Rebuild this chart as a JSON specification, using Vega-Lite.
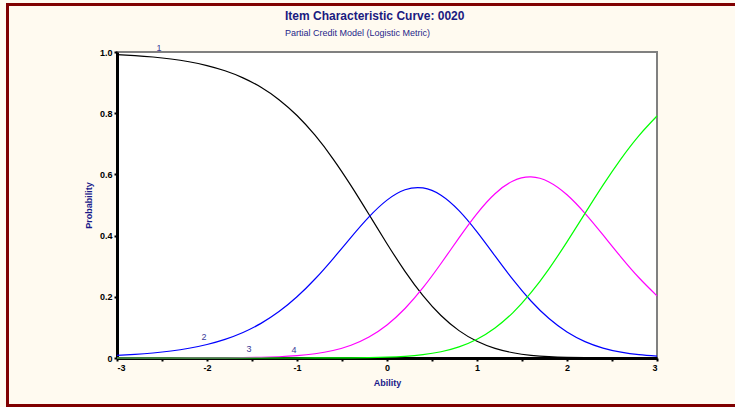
{
  "$schema": "https://vega.github.io/schema/vega-lite/v6.json",
  "width": 540,
  "height": 306,
  "autosize": {"type": "none"},
  "padding": {"left": 117, "top": 52, "right": 78, "bottom": 49},
  "background": "#fffaf0",
  "title": {
    "text": "Item Characteristic Curve: 0020",
    "subtitle": "Partial Credit Model (Logistic Metric)",
    "anchor": "start",
    "frame": "group",
    "dx": 168,
    "font": "Liberation Sans",
    "fontSize": 12,
    "fontWeight": "bold",
    "color": "#1a1a80",
    "subtitleFont": "Liberation Sans",
    "subtitleFontSize": 9,
    "subtitleColor": "#26268a",
    "subtitlePadding": 6,
    "offset": -36
  },
  "config": {
    "view": {"fill": "white", "stroke": "#808080", "strokeWidth": 2},
    "axis": {
      "grid": false,
      "domainColor": "black",
      "domainWidth": 3,
      "tickColor": "black",
      "tickWidth": 2,
      "tickSize": 3,
      "labelPadding": 2,
      "labelFont": "Liberation Sans",
      "labelFontWeight": "bold",
      "labelFontSize": 9,
      "labelColor": "black",
      "titleFont": "Liberation Sans",
      "titleFontWeight": "bold",
      "titleFontSize": 9,
      "titleColor": "#1a1a8a"
    }
  },
  "datasets": {
    "curves": [
      {"theta": -3.0, "cat": "1", "p": 0.99164}, {"theta": -2.8, "cat": "1", "p": 0.98829}, {"theta": -2.6, "cat": "1", "p": 0.98361}, {"theta": -2.4, "cat": "1", "p": 0.9771}, {"theta": -2.2, "cat": "1", "p": 0.96808}, {"theta": -2.0, "cat": "1", "p": 0.95564}, {"theta": -1.8, "cat": "1", "p": 0.93861}, {"theta": -1.6, "cat": "1", "p": 0.91554}, {"theta": -1.4, "cat": "1", "p": 0.88471}, {"theta": -1.2, "cat": "1", "p": 0.84423}, {"theta": -1.0, "cat": "1", "p": 0.79238}, {"theta": -0.8, "cat": "1", "p": 0.72797}, {"theta": -0.6, "cat": "1", "p": 0.65105}, {"theta": -0.4, "cat": "1", "p": 0.56342}, {"theta": -0.2, "cat": "1", "p": 0.46903}, {"theta": 0.0, "cat": "1", "p": 0.37352}, {"theta": 0.2, "cat": "1", "p": 0.28326}, {"theta": 0.4, "cat": "1", "p": 0.20385}, {"theta": 0.6, "cat": "1", "p": 0.13888}, {"theta": 0.8, "cat": "1", "p": 0.08947}, {"theta": 1.0, "cat": "1", "p": 0.0545}, {"theta": 1.2, "cat": "1", "p": 0.0314}, {"theta": 1.4, "cat": "1", "p": 0.01714}, {"theta": 1.6, "cat": "1", "p": 0.00888}, {"theta": 1.8, "cat": "1", "p": 0.00437}, {"theta": 2.0, "cat": "1", "p": 0.00205}, {"theta": 2.2, "cat": "1", "p": 0.00092}, {"theta": 2.4, "cat": "1", "p": 0.0004}, {"theta": 2.6, "cat": "1", "p": 0.00017}, {"theta": 2.8, "cat": "1", "p": 0.00007}, {"theta": 3.0, "cat": "1", "p": 0.00003},
      {"theta": -3.0, "cat": "2", "p": 0.00835}, {"theta": -2.8, "cat": "2", "p": 0.01169}, {"theta": -2.6, "cat": "2", "p": 0.01635}, {"theta": -2.4, "cat": "2", "p": 0.02282}, {"theta": -2.2, "cat": "2", "p": 0.03176}, {"theta": -2.0, "cat": "2", "p": 0.04405}, {"theta": -1.8, "cat": "2", "p": 0.06079}, {"theta": -1.6, "cat": "2", "p": 0.08331}, {"theta": -1.4, "cat": "2", "p": 0.1131}, {"theta": -1.2, "cat": "2", "p": 0.15163}, {"theta": -1.0, "cat": "2", "p": 0.19994}, {"theta": -0.8, "cat": "2", "p": 0.25808}, {"theta": -0.6, "cat": "2", "p": 0.32427}, {"theta": -0.4, "cat": "2", "p": 0.39427}, {"theta": -0.2, "cat": "2", "p": 0.46112}, {"theta": 0.0, "cat": "2", "p": 0.51593}, {"theta": 0.2, "cat": "2", "p": 0.5497}, {"theta": 0.4, "cat": "2", "p": 0.55578}, {"theta": 0.6, "cat": "2", "p": 0.53199}, {"theta": 0.8, "cat": "2", "p": 0.48152}, {"theta": 1.0, "cat": "2", "p": 0.41205}, {"theta": 1.2, "cat": "2", "p": 0.33358}, {"theta": 1.4, "cat": "2", "p": 0.25583}, {"theta": 1.6, "cat": "2", "p": 0.1862}, {"theta": 1.8, "cat": "2", "p": 0.12888}, {"theta": 2.0, "cat": "2", "p": 0.08504}, {"theta": 2.2, "cat": "2", "p": 0.05365}, {"theta": 2.4, "cat": "2", "p": 0.03249}, {"theta": 2.6, "cat": "2", "p": 0.01897}, {"theta": 2.8, "cat": "2", "p": 0.01073}, {"theta": 3.0, "cat": "2", "p": 0.00591},
      {"theta": -3.0, "cat": "3", "p": 0.00001}, {"theta": -2.8, "cat": "3", "p": 0.00002}, {"theta": -2.6, "cat": "3", "p": 0.00004}, {"theta": -2.4, "cat": "3", "p": 0.00008}, {"theta": -2.2, "cat": "3", "p": 0.00016}, {"theta": -2.0, "cat": "3", "p": 0.00031}, {"theta": -1.8, "cat": "3", "p": 0.0006}, {"theta": -1.6, "cat": "3", "p": 0.00115}, {"theta": -1.4, "cat": "3", "p": 0.00219}, {"theta": -1.2, "cat": "3", "p": 0.00413}, {"theta": -1.0, "cat": "3", "p": 0.00765}, {"theta": -0.8, "cat": "3", "p": 0.01386}, {"theta": -0.6, "cat": "3", "p": 0.02447}, {"theta": -0.4, "cat": "3", "p": 0.04181}, {"theta": -0.2, "cat": "3", "p": 0.06869}, {"theta": 0.0, "cat": "3", "p": 0.10798}, {"theta": 0.2, "cat": "3", "p": 0.16164}, {"theta": 0.4, "cat": "3", "p": 0.22961}, {"theta": 0.6, "cat": "3", "p": 0.30878}, {"theta": 0.8, "cat": "3", "p": 0.39266}, {"theta": 1.0, "cat": "3", "p": 0.47207}, {"theta": 1.2, "cat": "3", "p": 0.53693}, {"theta": 1.4, "cat": "3", "p": 0.57854}, {"theta": 1.6, "cat": "3", "p": 0.5916}, {"theta": 1.8, "cat": "3", "p": 0.57529}, {"theta": 2.0, "cat": "3", "p": 0.53331}, {"theta": 2.2, "cat": "3", "p": 0.47271}, {"theta": 2.4, "cat": "3", "p": 0.40214}, {"theta": 2.6, "cat": "3", "p": 0.32983}, {"theta": 2.8, "cat": "3", "p": 0.26217}, {"theta": 3.0, "cat": "3", "p": 0.20303},
      {"theta": -3.0, "cat": "4", "p": 0.0}, {"theta": -2.8, "cat": "4", "p": 0.0}, {"theta": -2.6, "cat": "4", "p": 0.0}, {"theta": -2.4, "cat": "4", "p": 0.0}, {"theta": -2.2, "cat": "4", "p": 0.0}, {"theta": -2.0, "cat": "4", "p": 0.0}, {"theta": -1.8, "cat": "4", "p": 0.0}, {"theta": -1.6, "cat": "4", "p": 0.000001}, {"theta": -1.4, "cat": "4", "p": 0.000005}, {"theta": -1.2, "cat": "4", "p": 0.000013}, {"theta": -1.0, "cat": "4", "p": 0.000033}, {"theta": -0.8, "cat": "4", "p": 0.000084}, {"theta": -0.6, "cat": "4", "p": 0.00021}, {"theta": -0.4, "cat": "4", "p": 0.0005}, {"theta": -0.2, "cat": "4", "p": 0.00116}, {"theta": 0.0, "cat": "4", "p": 0.00257}, {"theta": 0.2, "cat": "4", "p": 0.00539}, {"theta": 0.4, "cat": "4", "p": 0.01077}, {"theta": 0.6, "cat": "4", "p": 0.02034}, {"theta": 0.8, "cat": "4", "p": 0.03634}, {"theta": 1.0, "cat": "4", "p": 0.06138}, {"theta": 1.2, "cat": "4", "p": 0.09809}, {"theta": 1.4, "cat": "4", "p": 0.14849}, {"theta": 1.6, "cat": "4", "p": 0.21332}, {"theta": 1.8, "cat": "4", "p": 0.29145}, {"theta": 2.0, "cat": "4", "p": 0.37959}, {"theta": 2.2, "cat": "4", "p": 0.47271}, {"theta": 2.4, "cat": "4", "p": 0.56498}, {"theta": 2.6, "cat": "4", "p": 0.65104}, {"theta": 2.8, "cat": "4", "p": 0.72703}, {"theta": 3.0, "cat": "4", "p": 0.79103}
    ],
    "labels": [
      {"label": "1", "lx": -2.533, "ly": 1.013},
      {"label": "2", "lx": -2.033, "ly": 0.07},
      {"label": "3", "lx": -1.533, "ly": 0.028},
      {"label": "4", "lx": -1.033, "ly": 0.025}
    ]
  },
  "layer": [
    {
      "data": {"values": [{}]},
      "mark": {"type": "rect", "filled": false, "stroke": "#800000", "strokeWidth": 3},
      "encoding": {
        "x": {"datum": -4.2167, "type": "quantitative"},
        "x2": {"datum": 4.2},
        "y": {"datum": 1.1552, "type": "quantitative"},
        "y2": {"datum": -0.1552}
      }
    },
    {
      "data": {"name": "curves"},
      "mark": {"type": "line", "interpolate": "natural", "strokeWidth": 1.2},
      "encoding": {
        "x": {
          "field": "theta",
          "type": "quantitative",
          "scale": {"domain": [-3, 3], "nice": false, "zero": false},
          "axis": {
            "title": "Ability",
            "titlePadding": 6,
            "values": [-3, -2.5, -2, -1.5, -1, -0.5, 0, 0.5, 1, 1.5, 2, 2.5, 3],
            "labelExpr": "datum.value % 1 == 0 ? toString(datum.value) : ''"
          }
        },
        "y": {
          "field": "p",
          "type": "quantitative",
          "scale": {"domain": [0, 1], "nice": false, "zero": false},
          "axis": {
            "title": "Probability",
            "titlePadding": 6,
            "values": [0, 0.1, 0.2, 0.3, 0.4, 0.5, 0.6, 0.7, 0.8, 0.9, 1.0],
            "labelExpr": "datum.value == 0 ? '0' : (round(datum.value * 10) % 2 == 0 ? format(datum.value, '.1f') : '')"
          }
        },
        "color": {
          "field": "cat",
          "type": "nominal",
          "scale": {"domain": ["1", "2", "3", "4"], "range": ["#000000", "#0000ff", "#ff00ff", "#00ff00"]},
          "legend": null
        }
      }
    },
    {
      "data": {"name": "labels"},
      "mark": {"type": "text", "font": "Liberation Sans", "fontSize": 9, "color": "#3a3a9a", "baseline": "middle", "align": "center"},
      "encoding": {
        "x": {"field": "lx", "type": "quantitative"},
        "y": {"field": "ly", "type": "quantitative"},
        "text": {"field": "label"}
      }
    }
  ]
}
